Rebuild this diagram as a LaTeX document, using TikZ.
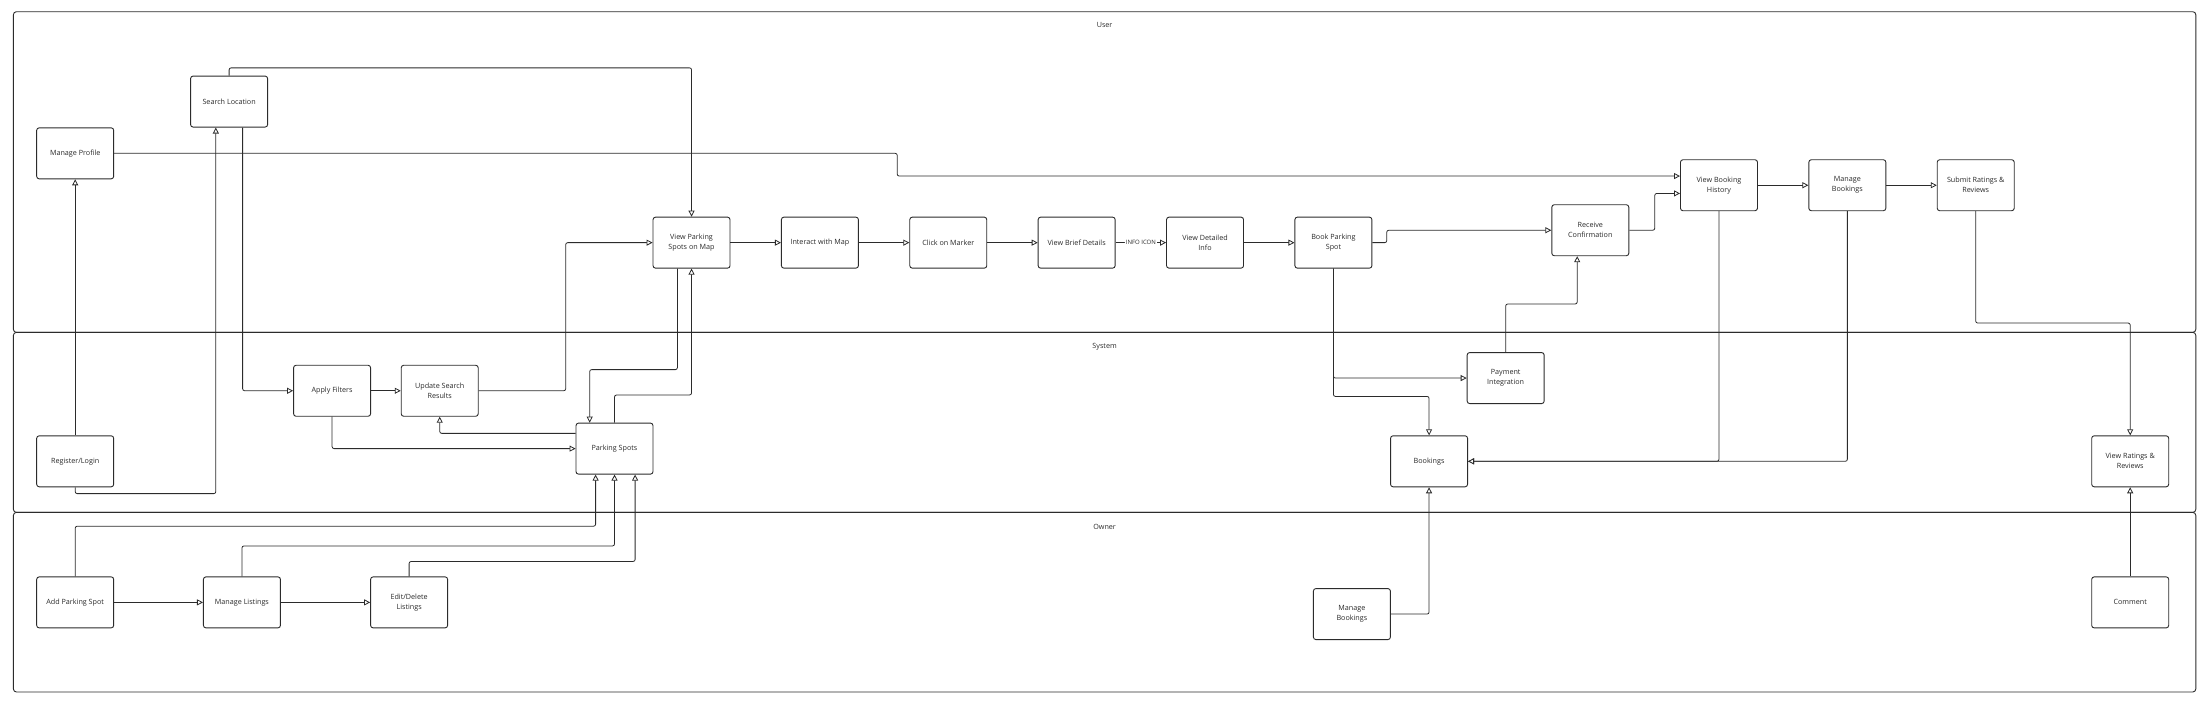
\documentclass[tikz,border=0pt]{standalone}
\usepackage{fontspec}
\setmainfont{Open Sans}
\usetikzlibrary{arrows.meta,calc}
\definecolor{ink}{HTML}{2B2B2B}
\begin{document}
\begin{tikzpicture}[x=1.4107pt,y=-1.4107pt,
  box/.style={draw=ink, fill=white, line width=0.9pt, rounded corners=2.5pt, minimum width=77pt, minimum height=51pt, align=center, font=\fontsize{7.2}{10}\selectfont, text=ink, inner sep=1pt},
  lane/.style={draw=ink, line width=0.9pt, rounded corners=3pt},
  lanetitle/.style={font=\fontsize{7.2}{9}\selectfont, text=ink, inner sep=0pt},
  conn/.style={draw=ink, line width=0.8pt, rounded corners=2pt, -{Triangle[length=6pt,width=6pt,fill=white]}},
  lbl/.style={fill=white, font=\fontsize{6}{7}\selectfont, text=ink, inner sep=1pt}]
\useasboundingbox (0,0) rectangle (1568,500.5);
% lanes
\draw[lane] (9.5,8.3) rectangle (1556.5,235.6);
\draw[lane] (9.5,235.6) rectangle (1556.5,363.2);
\draw[lane] (9.5,363.2) rectangle (1556.5,490.5);
\node[lanetitle] (tuser) at (783,18) {User};
\node[lanetitle] (tsys) at (783,245.7) {System};
\node[lanetitle] (towner) at (783,373.3) {Owner};
% user lane boxes
\node[box] (sl) at (162.4,72) {Search Location};
\node[box] (mp) at (53.3,108.7) {Manage Profile};
\node[box] (vps) at (490.2,172) {View Parking\\Spots on Map};
\node[box] (iwm) at (581.2,172) {Interact with Map};
\node[box] (com) at (672.2,172) {Click on Marker};
\node[box] (vbd) at (763.2,172) {View Brief Details};
\node[box] (vdi) at (854.2,172) {View Detailed\\Info};
\node[box] (bps) at (945.2,172) {Book Parking\\Spot};
\node[box] (rc) at (1127.3,163.2) {Receive\\Confirmation};
\node[box] (vbh) at (1218.5,131.3) {View Booking\\History};
\node[box] (mbu) at (1309.5,131.3) {Manage\\Bookings};
\node[box] (sr) at (1400.5,131.3) {Submit Ratings \&\\Reviews};
% system lane boxes
\node[box] (af) at (235.4,277) {Apply Filters};
\node[box] (usr) at (311.7,277) {Update Search\\Results};
\node[box] (ps) at (435.6,318) {Parking Spots};
\node[box] (rl) at (53.3,327) {Register/Login};
\node[box] (pi) at (1067.3,268) {Payment\\Integration};
\node[box] (bk) at (1013,327) {Bookings};
\node[box] (vrr) at (1510,327) {View Ratings \&\\Reviews};
% owner lane boxes
\node[box] (aps) at (53.3,427) {Add Parking Spot};
\node[box] (ml) at (171.5,427) {Manage Listings};
\node[box] (ed) at (290,427) {Edit/Delete\\Listings};
\node[box] (mbo) at (958.3,435.3) {Manage\\Bookings};
\node[box] (cm) at (1510,427) {Comment};
% connectors
\draw[conn] (sl.north) -- ++(0,-5.5) -| (vps.north);
\draw[conn] (mp.east) -- (636,108.7) |- ($(vbh.west)+(0,-6.5)$);
\draw[conn] (rl.north) -- (mp.south);
\draw[conn] (rl.south) -- ++(0,4.5) -| ($(sl.south)+(-9.4,0)$);
\draw[conn] ($(sl.south)+(9.6,0)$) |- (af.west);
\draw[conn] (af.east) -- (usr.west);
\draw[conn] (usr.east) -- (401,277) |- (vps.west);
\draw[conn] (af.south) |- (ps.west);
\draw[conn] ($(ps.west)+(0,-10.8)$) -| (usr.south);
\draw[conn] ($(vps.south)+(-10,0)$) -- (480.2,262) -| ($(ps.north)+(-17.6,0)$);
\draw[conn] (ps.north) -- (435.6,280) -| (vps.south);
\draw[conn] (aps.north) -- (53.3,373) -| ($(ps.south)+(-13.4,0)$);
\draw[conn] (ml.north) -- (171.5,387) -| (ps.south);
\draw[conn] (ed.north) -- (290,398) -| ($(ps.south)+(14.6,0)$);
\draw[conn] (aps) -- (ml);
\draw[conn] (ml) -- (ed);
\draw[conn] (vps) -- (iwm);
\draw[conn] (iwm) -- (com);
\draw[conn] (com) -- (vbd);
\draw[conn] (vbd) -- node[lbl] (info) {INFO ICON} (vdi);
\draw[conn] (vdi) -- (bps);
\draw[conn] (bps.east) -- (983,172) |- (rc.west);
\draw[conn] (rc.east) -- (1173,163.2) |- ($(vbh.west)+(0,5.8)$);
\draw[conn] (bps.south) |- (pi.west);
\draw[conn] (bps.south) -- (945.2,281) -| (bk.north);
\draw[conn] (pi.north) -- (1067.3,215.5) -| ($(rc.south)+(-9.3,0)$);
\draw[conn] (vbh.south) |- (bk.east);
\draw[conn] (mbu.south) |- (bk.east);
\draw[conn] (sr.south) -- (1400.5,229) -| (vrr.north);
\draw[conn] (vbh) -- (mbu);
\draw[conn] (mbu) -- (sr);
\draw[conn] (mbo.east) -| (bk.south);
\draw[conn] (cm.north) -- (vrr.south);
\end{tikzpicture}
\end{document}
